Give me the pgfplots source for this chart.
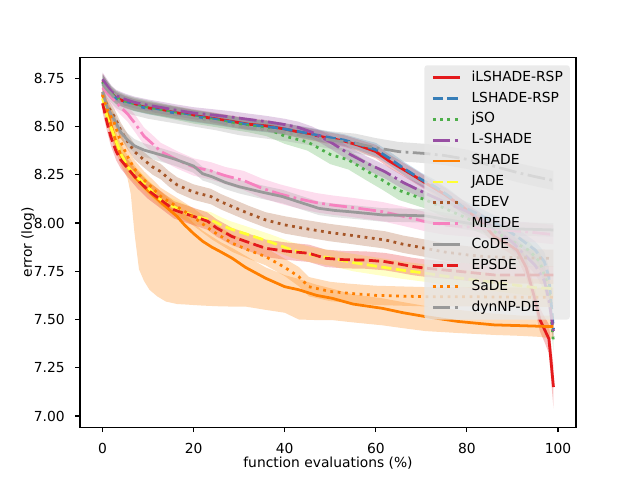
\documentclass[border=0pt]{standalone}
\usepackage{fontspec}
\setmainfont{DejaVu Sans}
\usepackage{pgfplots}
\usepackage{pgfplotstable}
\pgfplotsset{compat=1.18}
\usepgfplotslibrary{fillbetween}

\definecolor{c1}{HTML}{E41A1C}
\definecolor{c2}{HTML}{377EB8}
\definecolor{c3}{HTML}{4DAF4A}
\definecolor{c4}{HTML}{984EA3}
\definecolor{c5}{HTML}{FF7F00}
\definecolor{c6}{HTML}{FFFF33}
\definecolor{c7}{HTML}{A65628}
\definecolor{c8}{HTML}{F781BF}
\definecolor{c9}{HTML}{999999}
\definecolor{legbg}{RGB}{230,230,230}

\pgfplotstableread{
x y d
0 8.735 0.04
1 8.70 0.035
2 8.67 0.03
3 8.648 0.03
5 8.628 0.03
7 8.612 0.03
10 8.597 0.03
13 8.585 0.03
16 8.572 0.03
20 8.557 0.03
24 8.543 0.03
28 8.528 0.03
32 8.512 0.03
36 8.503 0.03
40 8.487 0.03
45 8.462 0.03
50 8.438 0.03
53 8.425 0.03
56 8.404 0.03
60 8.37 0.035
63 8.32 0.035
65 8.292 0.035
68 8.25 0.035
71 8.206 0.035
75 8.15 0.035
79 8.085 0.035
83 8.01 0.04
86 7.93 0.04
89 7.89 0.04
91 7.86 0.045
93 7.77 0.05
95 7.60 0.055
96 7.50 0.06
97 7.45 0.065
98 7.40 0.075
99 7.15 0.11
}\tA

\pgfplotstableread{
x y d
0 8.73 0.04
1 8.70 0.035
2 8.668 0.03
3 8.645 0.03
5 8.625 0.03
7 8.61 0.03
10 8.593 0.03
13 8.582 0.03
16 8.57 0.03
20 8.553 0.03
24 8.54 0.03
28 8.525 0.03
32 8.51 0.03
36 8.50 0.03
40 8.487 0.03
45 8.465 0.03
50 8.442 0.03
53 8.43 0.03
56 8.41 0.03
60 8.38 0.035
63 8.335 0.035
66 8.285 0.035
70 8.225 0.035
73 8.188 0.035
76 8.14 0.035
79 8.085 0.035
83 8.04 0.035
87.7 7.981 0.04
91 7.93 0.04
95 7.86 0.045
97 7.80 0.05
98 7.72 0.05
99 7.45 0.05
}\tB

\pgfplotstableread{
x y d
0 8.73 0.04
1 8.70 0.035
2 8.67 0.035
3 8.65 0.035
5 8.63 0.035
7 8.615 0.035
10 8.60 0.035
13 8.585 0.035
16 8.57 0.035
20 8.55 0.035
24 8.535 0.035
28 8.52 0.035
32 8.505 0.035
36 8.49 0.04
40 8.45 0.04
45 8.42 0.045
50 8.355 0.05
54 8.327 0.05
58 8.27 0.05
61.4 8.223 0.05
65 8.17 0.05
70.9 8.12 0.045
76.7 8.059 0.045
80 8.025 0.045
84 7.981 0.045
88 7.93 0.045
93.5 7.86 0.045
96 7.80 0.045
98 7.66 0.05
99 7.38 0.05
}\tC

\pgfplotstableread{
x y d
0 8.745 0.035
1 8.71 0.035
2 8.68 0.03
3 8.66 0.03
5 8.64 0.03
7 8.625 0.03
10 8.61 0.03
13 8.598 0.03
16 8.585 0.03
20 8.57 0.03
24 8.56 0.03
28 8.55 0.03
32 8.537 0.03
36 8.525 0.03
40 8.51 0.03
43 8.495 0.03
46 8.47 0.03
50 8.42 0.035
54 8.36 0.035
58 8.31 0.035
62 8.266 0.035
66 8.21 0.035
70.9 8.154 0.035
75 8.11 0.035
80 8.06 0.035
85 7.99 0.035
90 7.90 0.04
95 7.78 0.045
97 7.70 0.05
98 7.60 0.05
99 7.44 0.05
}\tD

\pgfplotstableread{
x y lo hi
0 8.672 8.62 8.72
1 8.58 8.52 8.63
2.6 8.447 8.39 8.50
4 8.35 8.30 8.41
5.5 8.292 8.23 8.35
6.2 8.27 8.15 8.33
7 8.24 7.95 8.30
8 8.215 7.76 8.27
9.1 8.188 7.70 8.24
10.3 8.16 7.654 8.21
12 8.125 7.62 8.18
13.9 8.085 7.593 8.14
16.4 8.033 7.58 8.09
18 7.99 7.578 8.05
20 7.945 7.575 8.00
22 7.905 7.572 7.96
24 7.875 7.57 7.93
26 7.85 7.568 7.90
28.5 7.817 7.567 7.87
31.4 7.77 7.567 7.83
35.8 7.714 7.55 7.77
40 7.67 7.535 7.73
43.1 7.654 7.50 7.71
47 7.625 7.497 7.68
50.4 7.61 7.497 7.66
55 7.58 7.485 7.63
61.4 7.558 7.47 7.61
66 7.535 7.455 7.59
70.9 7.515 7.44 7.57
78 7.49 7.43 7.55
86 7.472 7.42 7.53
92 7.468 7.415 7.52
96 7.465 7.41 7.52
99 7.463 7.40 7.52
}\tE

\pgfplotstableread{
x y d
0 8.646 0.04
1 8.55 0.04
2.6 8.447 0.04
4 8.36 0.04
5.5 8.292 0.04
7 8.25 0.04
9.1 8.206 0.04
11 8.16 0.04
12.8 8.12 0.04
14.5 8.095 0.04
16.4 8.076 0.04
20 8.035 0.04
23.8 8.016 0.04
26 7.99 0.04
28 7.97 0.04
32.2 7.938 0.04
37 7.90 0.04
41.6 7.86 0.04
46 7.835 0.04
50.4 7.817 0.04
55 7.795 0.045
60.7 7.774 0.045
66 7.755 0.045
70.9 7.74 0.045
75 7.725 0.045
80 7.71 0.045
85 7.695 0.045
90 7.68 0.045
95 7.665 0.045
99 7.66 0.045
}\tF

\pgfplotstableread{
x y d
0 8.663 0.04
1 8.61 0.04
2.6 8.551 0.04
4 8.48 0.04
5.5 8.422 0.04
7 8.37 0.04
9.1 8.327 0.04
11 8.29 0.04
12.8 8.266 0.04
14.5 8.23 0.04
16.4 8.197 0.04
20 8.16 0.04
23.8 8.137 0.04
26 8.11 0.04
28.5 8.085 0.04
32 8.05 0.04
35.8 8.016 0.04
40 7.99 0.045
45.3 7.968 0.045
50 7.95 0.045
54 7.938 0.045
58 7.925 0.045
62.1 7.912 0.045
66 7.89 0.045
70.9 7.869 0.045
75 7.85 0.045
80 7.835 0.045
84 7.826 0.045
91 7.82 0.045
99 7.817 0.045
}\tG

\pgfplotstableread{
x y d
0 8.70 0.04
2 8.65 0.04
4 8.60 0.04
5.5 8.565 0.04
7 8.52 0.045
9.1 8.45 0.045
11 8.41 0.045
12.8 8.37 0.045
14.5 8.35 0.045
16.4 8.327 0.045
20 8.29 0.045
23.8 8.27 0.045
27 8.245 0.045
31 8.22 0.05
35 8.18 0.05
39 8.15 0.05
43.1 8.125 0.05
47 8.105 0.05
50.4 8.093 0.05
55 8.08 0.05
61.4 8.059 0.05
66 8.035 0.05
70.9 8.007 0.05
75 7.99 0.05
80 7.98 0.05
85 7.97 0.05
90 7.96 0.05
95 7.95 0.05
99 7.94 0.05
}\tH

\pgfplotstableread{
x y d
0 8.68 0.035
1 8.60 0.035
2.6 8.534 0.035
4 8.47 0.035
5.5 8.43 0.035
7 8.40 0.035
9.1 8.378 0.035
11 8.365 0.035
12.8 8.353 0.035
16 8.33 0.035
20 8.295 0.035
22 8.255 0.035
24 8.24 0.035
27 8.21 0.035
30 8.188 0.035
35 8.16 0.035
39.5 8.137 0.035
43 8.11 0.035
47.5 8.076 0.035
51 8.065 0.035
54 8.059 0.035
58 8.05 0.035
61.4 8.042 0.035
66 8.04 0.035
70.9 8.037 0.035
75 8.02 0.035
80 8.00 0.035
85 7.98 0.035
90 7.97 0.035
99 7.964 0.035
}\tI

\pgfplotstableread{
x y d
0 8.62 0.045
1 8.52 0.045
1.8 8.447 0.045
3 8.37 0.045
4 8.327 0.045
6 8.27 0.045
7.7 8.223 0.045
10 8.17 0.045
12.8 8.12 0.045
15.7 8.068 0.045
20.1 8.033 0.045
23 8.01 0.045
25 7.975 0.045
28.5 7.929 0.045
32 7.90 0.045
35.8 7.869 0.045
40 7.855 0.045
45.3 7.843 0.045
49 7.817 0.045
53 7.81 0.045
57.7 7.808 0.045
62 7.80 0.045
65 7.788 0.045
68 7.775 0.045
70.9 7.766 0.045
78 7.75 0.045
86 7.731 0.045
99 7.73 0.045
}\tJ

\pgfplotstableread{
x y d
0 8.663 0.045
1 8.59 0.045
2.6 8.517 0.045
4 8.42 0.045
5.5 8.344 0.045
7 8.28 0.045
9.1 8.223 0.045
11 8.18 0.045
12.8 8.137 0.045
16 8.09 0.045
20 8.03 0.045
24 7.96 0.045
28.5 7.895 0.045
32 7.86 0.045
35.8 7.826 0.045
40 7.77 0.045
43.1 7.722 0.05
45.3 7.67 0.05
50 7.645 0.05
54 7.636 0.05
60 7.625 0.05
70.9 7.618 0.05
80 7.618 0.05
90 7.616 0.05
99 7.615 0.05
}\tK

\pgfplotstableread{
x y d
0 8.72 0.045
1 8.69 0.045
3 8.64 0.045
5 8.615 0.045
10 8.585 0.045
15 8.565 0.045
20 8.545 0.045
25 8.525 0.045
30 8.50 0.045
35 8.485 0.045
40 8.47 0.045
45 8.45 0.045
50 8.43 0.045
55.5 8.413 0.05
60 8.39 0.05
65 8.37 0.05
70.9 8.36 0.05
75 8.35 0.05
80 8.33 0.05
85 8.30 0.05
91.3 8.26 0.05
95 8.24 0.05
99 8.22 0.05
}\tL

\tikzset{
  lsolid/.style={solid},
  ldashed/.style={dash pattern=on 7.4pt off 3.2pt},
  ldotted/.style={dash pattern=on 2pt off 3.3pt},
  ldashdot/.style={dash pattern=on 12.8pt off 3.2pt on 2pt off 3.2pt},
}

% band macro: #1 table, #2 colour, #3 name
\newcommand{\band}[3]{%
  \addplot[draw=none, name path=#3lo, forget plot] table[x=x, y expr=\thisrow{y}-\thisrow{d}] {#1};
  \addplot[draw=none, name path=#3hi, forget plot] table[x=x, y expr=\thisrow{y}+\thisrow{d}] {#1};
  \addplot[fill=#2, fill opacity=0.27, draw=none, forget plot] fill between[of=#3lo and #3hi];
}

\begin{document}
\begin{tikzpicture}
\begin{axis}[
  at={(0.8in,0.528in)}, anchor=south west,
  width=4.96in, height=3.696in, scale only axis,
  xmin=-4.95, xmax=103.95, ymin=6.942, ymax=8.857,
  xtick={0,20,40,60,80,100},
  ytick={7,7.25,7.5,7.75,8,8.25,8.5,8.75},
  /pgf/number format/assume math mode=true,
  tick align=outside, tick pos=left,
  major tick length=3.5pt,
  every tick/.style={black, line width=0.8pt},
  axis line style={line width=0.8pt},
  tick label style={font=\fontsize{10}{12}\selectfont},
  xticklabel style={yshift=-4.3pt},
  yticklabel style={xshift=-4pt, /pgf/number format/.cd, fixed, fixed zerofill, precision=2},
  label style={font=\fontsize{10}{12}\selectfont},
  xlabel={function evaluations (\%)},
  ylabel={error (log)},
  xlabel style={at={(axis description cs:0.5,-0.096)}, anchor=center},
  ylabel style={at={(axis description cs:-0.1048,0.5)}, anchor=center},
  every axis plot/.append style={line width=2pt},
  legend image code/.code={\draw[#1] (0pt,0pt) -- (20pt,0pt);},
  legend cell align=left,
  legend style={at={(0.988,0.98)}, anchor=north east, draw=none,
    fill=legbg, fill opacity=0.8, text opacity=1, rounded corners=2pt,
    font=\fontsize{10}{12}\selectfont,
    inner xsep=5pt, inner ysep=4pt,
    nodes={inner sep=0pt, text height=7.5pt, text depth=2.2pt},
    row sep=5.4pt, column sep=7pt},
]
\addplot[c1, lsolid] table[x=x,y=y] {\tA}; \addlegendentry{iLSHADE-RSP}
\band{\tA}{c1}{a}
\addplot[c2, ldashed] table[x=x,y=y] {\tB}; \addlegendentry{LSHADE-RSP}
\band{\tB}{c2}{b}
\addplot[c3, ldotted] table[x=x,y=y] {\tC}; \addlegendentry{jSO}
\band{\tC}{c3}{c}
\addplot[c4, ldashdot] table[x=x,y=y] {\tD}; \addlegendentry{L-SHADE}
\band{\tD}{c4}{d}
\addplot[c5, lsolid] table[x=x,y=y] {\tE}; \addlegendentry{SHADE}
\addplot[draw=none, name path=elo, forget plot] table[x=x, y=lo] {\tE};
\addplot[draw=none, name path=ehi, forget plot] table[x=x, y=hi] {\tE};
\addplot[fill=c5, fill opacity=0.27, draw=none, forget plot] fill between[of=elo and ehi];
\addplot[c6, ldashed] table[x=x,y=y] {\tF}; \addlegendentry{JADE}
\band{\tF}{c6}{f}
\addplot[c7, ldotted] table[x=x,y=y] {\tG}; \addlegendentry{EDEV}
\band{\tG}{c7}{g}
\addplot[c8, ldashdot] table[x=x,y=y] {\tH}; \addlegendentry{MPEDE}
\band{\tH}{c8}{h}
\addplot[c9, lsolid] table[x=x,y=y] {\tI}; \addlegendentry{CoDE}
\band{\tI}{c9}{i}
\addplot[c1, ldashed] table[x=x,y=y] {\tJ}; \addlegendentry{EPSDE}
\band{\tJ}{c1}{j}
\addplot[c5, ldotted] table[x=x,y=y] {\tK}; \addlegendentry{SaDE}
\band{\tK}{c5}{k}
\addplot[c9, ldashdot] table[x=x,y=y] {\tL}; \addlegendentry{dynNP-DE}
\band{\tL}{c9}{l}
\end{axis}
\pgfresetboundingbox
\path[use as bounding box] (0,0) rectangle (6.4in,4.8in);
\end{tikzpicture}
\end{document}
